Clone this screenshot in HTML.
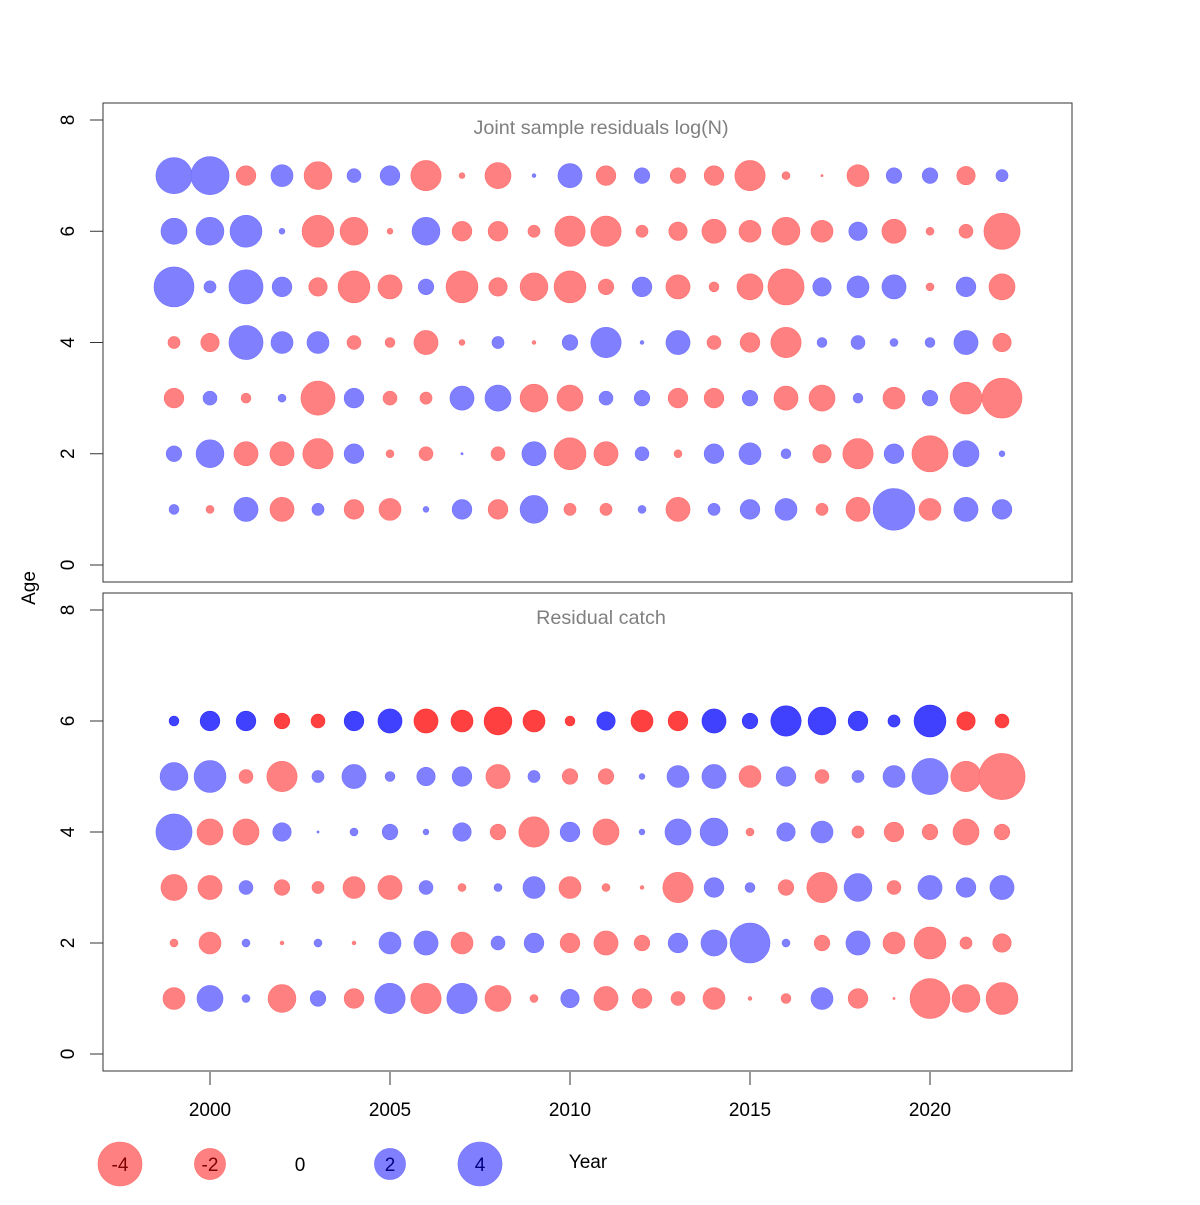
<!DOCTYPE html>
<html><head><meta charset="utf-8"><style>
html,body{margin:0;padding:0;background:#fff;}
svg text{font-family:"Liberation Sans",sans-serif;}
</style></head><body>
<svg id="chart" width="1200" height="1200" xmlns="http://www.w3.org/2000/svg"></svg>
<script>
const years = [1999,2000,2001,2002,2003,2004,2005,2006,2007,2008,2009,2010,2011,2012,2013,2014,2015,2016,2017,2018,2019,2020,2021,2022];
const topAges = [7,6,5,4,3,2,1];
const topValues = [
 [2.7,3,-0.8,1,-1.6,0.4,0.8,-1.9,-0.07,-1.4,0.03,1.2,-0.8,0.5,-0.5,-0.8,-1.9,-0.13,-0.01,-1,0.5,0.5,-0.7,0.3],
 [1.4,1.6,2.1,0.07,-2.1,-1.6,-0.07,1.6,-0.8,-0.8,-0.3,-1.9,-1.9,-0.3,-0.7,-1.2,-1,-1.6,-1,0.7,-1.2,-0.13,-0.4,-2.7],
 [3.3,0.3,2.4,0.8,-0.7,-2.1,-1.2,0.5,-2.1,-0.7,-1.6,-2.1,-0.5,0.8,-1.2,-0.2,-1.4,-2.7,0.7,1,1.2,-0.13,0.8,-1.4],
 [-0.3,-0.7,2.4,1,1,-0.4,-0.2,-1.2,-0.07,0.3,-0.03,0.5,1.9,0.03,1.2,-0.4,-0.8,-1.9,0.2,0.4,0.13,0.2,1.2,-0.7],
 [-0.8,0.4,-0.2,0.13,-2.4,0.8,-0.4,-0.3,1.2,1.4,-1.6,-1.4,0.4,0.5,-0.8,-0.8,0.5,-1.2,-1.4,0.2,-1,0.5,-2.1,-3.3],
 [0.5,1.6,-1.2,-1.2,-1.9,0.8,-0.13,-0.4,0.01,-0.4,1.2,-2.1,-1.2,0.4,-0.13,0.8,1,0.2,-0.7,-1.9,0.8,-2.7,1.4,0.07],
 [0.2,-0.13,1.2,-1.2,0.3,-0.8,-1,0.07,0.8,-0.8,1.6,-0.3,-0.3,0.13,-1.2,0.3,0.8,1,-0.3,-1.2,3.6,-1,1.2,0.8]
];
const bottomAges = [6,5,4,3,2,1];
const bottomValues = [
 [0.2,0.8,0.8,-0.5,-0.4,0.8,1.2,-1.2,-1,-1.6,-1,-0.2,0.7,-1,-0.8,1.2,0.5,1.9,1.6,0.8,0.3,2.1,-0.7,-0.4],
 [1.6,2.1,-0.4,-1.9,0.3,1.2,0.2,0.7,0.8,-1.2,0.3,-0.5,-0.5,0.07,1,1.2,-1,0.8,-0.4,0.3,1,2.7,-1.9,-4.4],
 [2.7,-1.4,-1.4,0.7,0.01,0.13,0.5,0.07,0.7,-0.5,-1.9,0.8,-1.4,0.07,1.4,1.6,-0.13,0.7,1,-0.3,-0.8,-0.5,-1.4,-0.5],
 [-1.4,-1.2,0.4,-0.5,-0.3,-1,-1.2,0.4,-0.13,0.13,1,-1,-0.13,-0.03,-1.9,0.8,0.2,-0.5,-1.9,1.6,-0.4,1.2,0.8,1.2],
 [-0.13,-1,0.13,-0.03,0.13,-0.03,1,1.2,-1,0.4,0.8,-0.8,-1.2,-0.5,0.8,1.4,3.3,0.13,-0.5,1.2,-1,-2.1,-0.3,-0.7],
 [-1,1.4,0.13,-1.6,0.5,-0.8,1.9,-1.9,1.9,-1.4,-0.13,0.7,-1.2,-0.8,-0.4,-1,-0.03,-0.2,1,-0.8,-0.01,-3.3,-1.6,-2.1]
];
const xTicks = [2000,2005,2010,2015,2020];
const yTicks = [0,2,4,6,8];
const legendValues = [-4,-2,0,2,4];

const NS="http://www.w3.org/2000/svg";
const svg=document.getElementById('chart');
function mk(tag,attrs,parent){const e=document.createElementNS(NS,tag);for(const k in attrs)e.setAttribute(k,attrs[k]);(parent||svg).appendChild(e);return e;}
const xS = y => 210 + (y-2000)*36;
const rS = v => 11*Math.sqrt(Math.abs(v));
const panels=[
 {top:103,bottom:582,y0:565,y8:120,title:"Joint sample residuals log(N)",ages:topAges,vals:topValues,name:"top-panel"},
 {top:593,bottom:1071,y0:1054,y8:610,title:"Residual catch",ages:bottomAges,vals:bottomValues,name:"bottom-panel"}
];
panels.forEach((p,pi)=>{
 const g=mk('g',{});
 
 
 const yS=a=>p.y0+(p.y8-p.y0)*a/8;
 const box=mk('rect',{x:103,y:p.top,width:969,height:p.bottom-p.top,fill:'none',stroke:'#333','stroke-width':1},g);
 
 
 const t=mk('text',{x:601,y:p.top+31,'text-anchor':'middle','font-size':19.8,fill:'#808080'},g);
 t.textContent=p.title;
 
 
 yTicks.forEach(v=>{
  mk('line',{x1:90,x2:103,y1:yS(v),y2:yS(v),stroke:'#333'},g);
  const yt=mk('text',{x:0,y:0,transform:`translate(74,${yS(v)}) rotate(-90)`,'text-anchor':'middle','font-size':19,fill:'#000'},g);
  yt.textContent=v;
  
  
 });
 p.ages.forEach((a,ai)=>{
  const dark = (pi===1 && a===6);
  years.forEach((yr,yi)=>{
   const v=p.vals[ai][yi];
   const c=mk('circle',{cx:xS(yr),cy:yS(a),r:rS(v),
     fill: v<0 ? (dark?'#ff4040':'#ff8080') : (dark?'#4040ff':'#8080ff'),
     stroke: v<0 ? (dark?'#ff3030':'#ff7070') : (dark?'#3030ff':'#7070ff'),'stroke-width':0.6},g);
   
   
  });
 });
});
xTicks.forEach(v=>{
 mk('line',{x1:xS(v),x2:xS(v),y1:1072,y2:1085,stroke:'#333'});
 const t=mk('text',{x:xS(v),y:1116,'text-anchor':'middle','font-size':19,fill:'#000'});
 t.textContent=v;
 
 
});
const ay=mk('text',{x:0,y:0,transform:'translate(35,588) rotate(-90)','text-anchor':'middle','font-size':19,fill:'#000'});
ay.textContent='Age';


legendValues.forEach((v,i)=>{
 const cx=120+i*90;
 if(v!==0){
  const c=mk('circle',{cx:cx,cy:1164,r:rS(v),fill:v<0?'#ff8080':'#8080ff',stroke:v<0?'#ff7070':'#7070ff','stroke-width':0.6});
  
  
 }
 const t=mk('text',{x:cx,y:1171,'text-anchor':'middle','font-size':19,fill:v<0?'#800000':(v>0?'#000080':'#000')});
 t.textContent=v;
 
 
});
const xt=mk('text',{x:588,y:1168,'text-anchor':'middle','font-size':19,fill:'#000'});
xt.textContent='Year';


</script>
</body></html>
